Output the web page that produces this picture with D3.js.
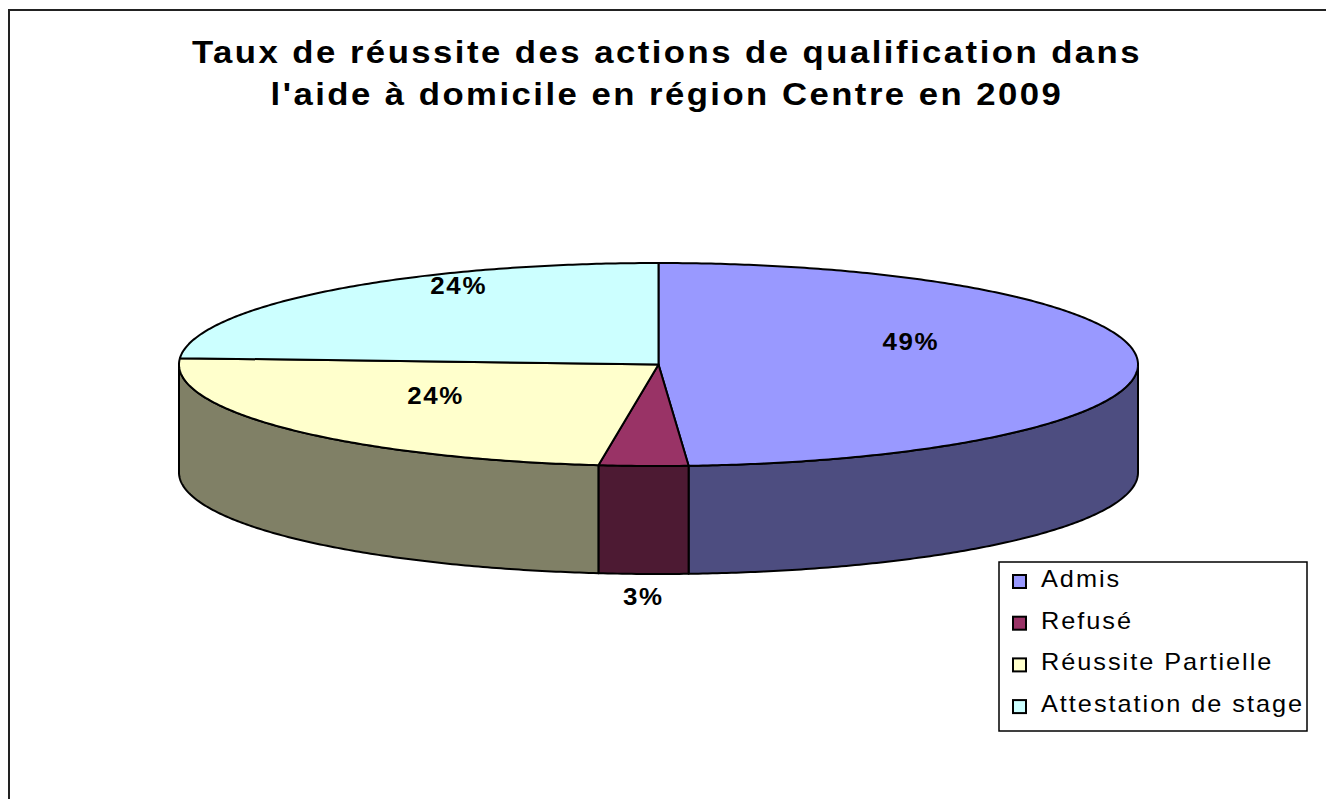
<!DOCTYPE html>
<html>
<head>
<meta charset="utf-8">
<script src="https://cdn.jsdelivr.net/npm/d3@7"></script>
<style>
  body { margin: 0; background: #fff; }
  text { font-family: "Liberation Sans", Arial, sans-serif; }
</style>
</head>
<body>
<svg id="chart" width="1326" height="799"></svg>
<script>
// data
const categories = ["Admis", "Refusé", "Réussite Partielle", "Attestation de stage"];
const values = [49, 3, 24, 24];
const valueLabels = ["49%", "3%", "24%", "24%"];
const titleLines = ["Taux de réussite des actions de qualification dans",
                    "l'aide à domicile en région Centre en 2009"];

const topColor = d3.scaleOrdinal(categories, ["#9999FF", "#993366", "#FFFFCC", "#CCFFFF"]);
// sides are the top colour at half brightness, like excel does
const sideColor = c => d3.rgb(topColor(c)).darker(Math.log(0.5) / Math.log(0.7)).formatHex();

const svg = d3.select("#chart");

// outer frame (runs off the right and bottom edges)
svg.append("rect")
    .attr("x", 9).attr("y", 10)
    .attr("width", 1400).attr("height", 900)
    .attr("fill", "none").attr("stroke", "#222").attr("stroke-width", 2);

// title (the original text is a bit stretched sideways)
svg.append("g").selectAll("text")
    .data(titleLines)
    .join("text")
    .attr("transform", (d, i) => `translate(667,${63 + i * 42}) scale(1.12,1)`)
    .attr("text-anchor", "middle")
    .attr("font-size", 31)
    .attr("font-weight", "bold")
    .attr("letter-spacing", 2.2)
    .text(d => d);

// pie geometry
const cx = 658.5, cy = 364.5, rx = 479.5, ry = 101.5, depth = 108;
const pt = (a, dy) => [cx + rx * Math.sin(a), cy - ry * Math.cos(a) + (dy || 0)];
const arcPts = (a0, a1, dy) => {
    const n = Math.max(2, Math.ceil(Math.abs(a1 - a0) / 0.01));
    return d3.range(n + 1).map(i => pt(a0 + (a1 - a0) * i / n, dy));
};
const line = d3.line();

const pie = d3.pie().sort(null).startAngle(0).endAngle(2 * Math.PI);
const arcs = pie(values).map((d, i) => ({ ...d, cat: categories[i], label: valueLabels[i] }));

const g = svg.append("g");

// front sides
const sides = arcs.map(d => {
    const s0 = Math.max(d.startAngle, Math.PI / 2), s1 = Math.min(d.endAngle, 3 * Math.PI / 2);
    return s1 > s0 ? { d, s0, s1 } : null;
}).filter(x => x);

g.selectAll(".side")
    .data(sides)
    .join("path")
    .attr("class", "side")
    .attr("d", s => line(arcPts(s.s0, s.s1, 0).concat(arcPts(s.s1, s.s0, depth))) + "Z")
    .attr("fill", s => sideColor(s.d.cat))
    .attr("stroke", "#000")
    .attr("stroke-width", 2)
    .attr("stroke-linejoin", "round");

// top faces
g.selectAll(".top")
    .data(arcs)
    .join("path")
    .attr("class", "top")
    .attr("d", d => line([[cx, cy]].concat(arcPts(d.startAngle, d.endAngle, 0))) + "Z")
    .attr("fill", d => topColor(d.cat))
    .attr("stroke", "#000")
    .attr("stroke-width", 2)
    .attr("stroke-linejoin", "round");

// value labels: inside for big slices, under the rim for small ones
g.selectAll(".lbl")
    .data(arcs)
    .join("text")
    .attr("class", "lbl")
    .attr("transform", d => {
        const mid = (d.startAngle + d.endAngle) / 2;
        let p;
        if (d.value < 5) {
            p = [cx + rx * Math.sin(mid), pt(mid, depth)[1] + 23];
        } else {
            p = [cx - 16 + 0.56 * rx * Math.sin(mid), cy - ry * (0.79 * Math.cos(mid) + 0.2)];
        }
        return `translate(${p[0]},${p[1]}) scale(1.08,1)`;
    })
    .attr("text-anchor", "middle")
    .attr("dy", "0.35em")
    .attr("font-size", 24)
    .attr("font-weight", "bold")
    .attr("letter-spacing", 1.5)
    .text(d => d.label);

// legend
const legend = svg.append("g").attr("transform", "translate(999,562)");
legend.append("rect")
    .attr("width", 308).attr("height", 169)
    .attr("fill", "#fff").attr("stroke", "#000").attr("stroke-width", 1.5);
const item = legend.selectAll(".item")
    .data(categories)
    .join("g")
    .attr("class", "item")
    .attr("transform", (d, i) => `translate(0,${25 + i * 41.7})`);
item.append("rect")
    .attr("x", 14).attr("y", -12)
    .attr("width", 13).attr("height", 13)
    .attr("fill", d => topColor(d))
    .attr("stroke", "#000").attr("stroke-width", 2);
item.append("text")
    .attr("transform", "translate(42,0) scale(1.1,1)")
    .attr("font-size", 23)
    .attr("letter-spacing", 1.8)
    .text(d => d);
</script>
</body>
</html>
